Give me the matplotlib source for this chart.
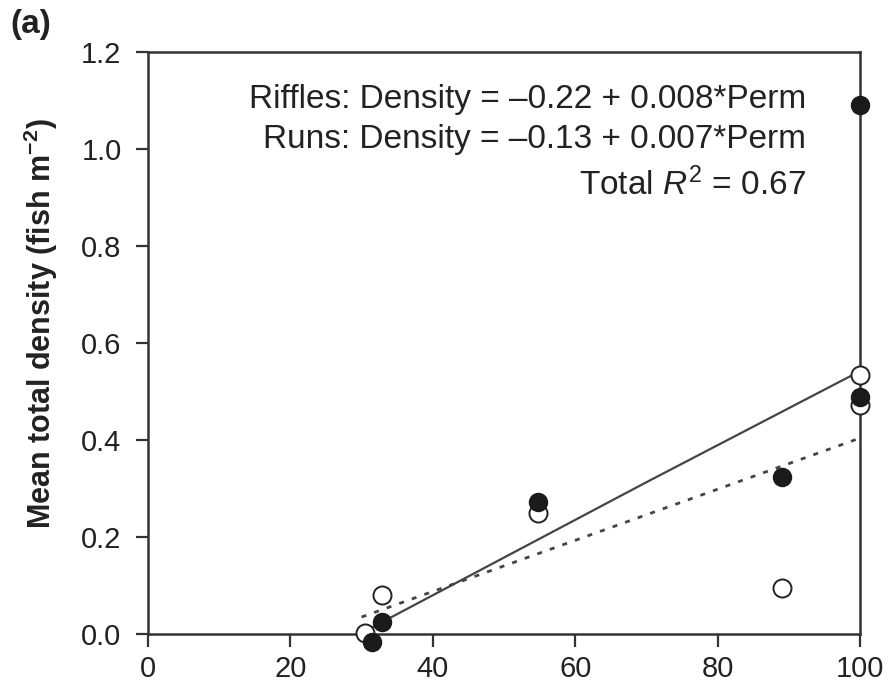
import matplotlib
matplotlib.use("Agg")
import matplotlib.pyplot as plt

plt.rcParams['font.family'] = ['Liberation Sans', 'DejaVu Sans']
plt.rcParams['mathtext.fontset'] = 'custom'
plt.rcParams['mathtext.rm'] = 'Liberation Sans'
plt.rcParams['mathtext.it'] = 'Liberation Sans:italic'
plt.rcParams['mathtext.bf'] = 'Liberation Sans:bold'

# Riffles (filled) and runs (open) observations
riffle_perm = [100, 100, 89.0, 54.8, 32.9, 31.5]
riffle_density = [1.091, 0.489, 0.324, 0.272, 0.025, -0.016]
run_perm = [100, 100, 89.0, 54.8, 32.9, 30.5]
run_density = [0.534, 0.472, 0.095, 0.249, 0.080, 0.002]

# fitted lines
solid_x = [31, 70, 100]
solid_y = [0.01, 0.313, 0.542]
dotted_x = [30, 100]
dotted_y = [0.035, 0.404]

xticks = [0, 20, 40, 60, 80, 100]
yticks = [0.0, 0.2, 0.4, 0.6, 0.8, 1.0, 1.2]

fig = plt.figure(figsize=(8.94, 6.89), dpi=100)
ax = fig.add_axes([0.1655, 0.0798, 0.7965, 0.8447])

ax.plot(solid_x, solid_y, color='#444444', lw=1.6, zorder=2)
ax.plot(dotted_x, dotted_y, color='#444444', lw=2.0, dashes=(1.8, 3.0), zorder=2)

ax.scatter(run_perm, run_density, s=13**2, facecolor='white', edgecolor='#222222',
           linewidths=1.4, zorder=3, clip_on=False)
ax.scatter(riffle_perm, riffle_density, s=13**2, facecolor='#1a1a1a', edgecolor='#1a1a1a',
           linewidths=1.0, zorder=4, clip_on=False)

ax.set_xlim(0, 100)
ax.set_ylim(0, 1.2)
ax.set_xticks(xticks)
ax.set_xticklabels([str(t) for t in xticks])
ax.set_yticks(yticks)
ax.set_yticklabels([f"{t:.1f}" for t in yticks])

for sp in ax.spines.values():
    sp.set_linewidth(1.8)
    sp.set_color('#333333')
ax.tick_params(direction='out', length=9, width=1.6, color='#333333',
               labelsize=21, labelcolor='#222222')
ax.tick_params(axis='x', pad=6)
ax.tick_params(axis='y', pad=10)

ax.set_ylabel('Mean total density (fish m$^{\\mathbf{-2}}$)', fontsize=22,
              fontweight='bold', color='#222222')
ax.yaxis.set_label_coords(-0.124, 0.534)

txt = dict(transform=ax.transAxes, ha='right', va='center', fontsize=24, color='#222222')
ax.text(0.924, 0.919, 'Riffles: Density = –0.22 + 0.008*Perm', **txt)
ax.text(0.924, 0.849, 'Runs: Density = –0.13 + 0.007*Perm', **txt)
ax.text(0.924, 0.772, 'Total $\\mathit{R}^2$ = 0.67', **txt)

fig.text(0.012, 0.965, '(a)', fontsize=24, fontweight='bold', color='#222222',
         ha='left', va='center')

fig.savefig('out.png', dpi=100)
